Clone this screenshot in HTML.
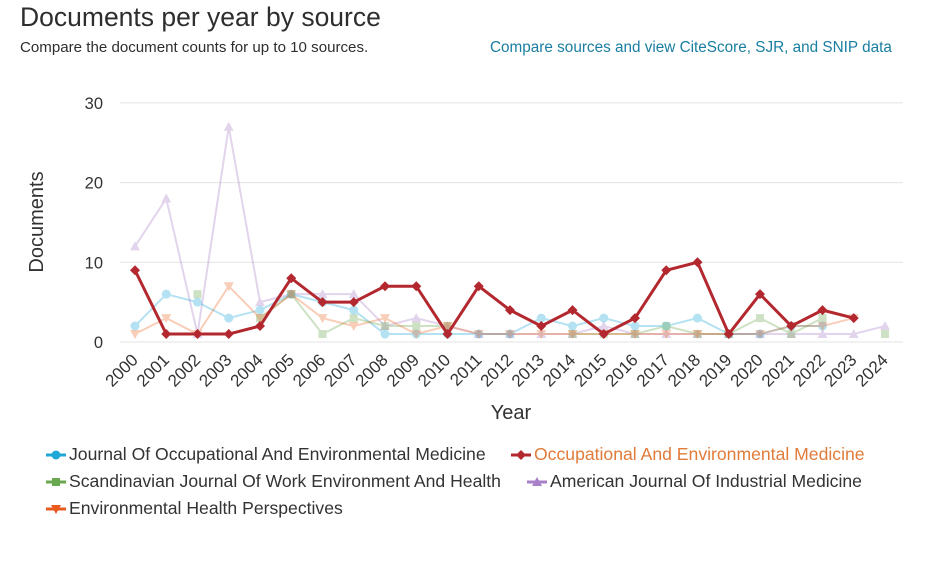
<!DOCTYPE html>
<html><head><meta charset="utf-8">
<style>
body{margin:0;width:936px;height:565px;background:#fff;font-family:"Liberation Sans",Arial,sans-serif;overflow:hidden;position:relative}
.t{position:absolute;white-space:nowrap}
.lg{position:absolute;white-space:nowrap;font-size:17.6px;color:#333}
.lg svg{position:absolute;left:-24px;top:4px}
</style></head><body>
<div class="t" style="left:20px;top:2px;font-size:26.5px;color:#2e2e2e">Documents per year by source</div>
<div class="t" style="left:20px;top:39px;font-size:15.1px;color:#2e2e2e">Compare the document counts for up to 10 sources.</div>
<div class="t" style="left:490px;top:39px;font-size:15.3px;color:#1a7ea0">Compare sources and view CiteScore, SJR, and SNIP data</div>
<svg id="chart" width="936" height="565" style="position:absolute;left:0;top:0"></svg>
<script>
const years=[2000,2001,2002,2003,2004,2005,2006,2007,2008,2009,2010,2011,2012,2013,2014,2015,2016,2017,2018,2019,2020,2021,2022,2023,2024];
const yTicks=[0,10,20,30];
const joem=[2,6,5,3,4,6,5,4,1,1,1,1,1,3,2,3,2,2,3,1,1,2,2,null,null];
const oem=[9,1,1,1,2,8,5,5,7,7,1,7,4,2,4,1,3,9,10,1,6,2,4,3,null];
const sjweh=[null,null,6,null,3,6,1,3,2,2,2,null,null,null,1,1,1,2,1,1,3,1,3,null,1];
const ajim=[12,18,1,27,5,6,6,6,2,3,2,1,1,1,1,2,1,1,1,1,1,1,1,1,2];
const ehp=[1,3,1,7,3,6,3,2,3,1,2,1,1,1,1,1,1,1,1,1,1,2,2,3,null];
const svg=document.getElementById('chart');const NS='http://www.w3.org/2000/svg';
const x=i=>135+i*31.25, y=v=>342-v*7.97;
function el(t,a,p){const e=document.createElementNS(NS,t);for(const k in a)e.setAttribute(k,a[k]);(p||svg).appendChild(e);return e;}
yTicks.forEach(v=>{
 const g=el('line',{x1:120,x2:903,y1:y(v),y2:y(v),stroke:'#e3e3e3'});
 
 
 const t=el('text',{x:103,y:y(v)+6,'text-anchor':'end','font-size':16.5,fill:'#333'});t.textContent=v;
 
 
});
years.forEach((yr,i)=>{
 const t=el('text',{transform:`translate(${x(i)+4},${361}) rotate(-45)`,'text-anchor':'end','font-size':17,fill:'#333'});t.textContent=yr;
 
 
});
const yt=el('text',{transform:'translate(43,222) rotate(-90)','text-anchor':'middle','font-size':20,fill:'#333'});yt.textContent='Documents';


const xt=el('text',{x:511,y:419,'text-anchor':'middle','font-size':20,fill:'#333'});xt.textContent='Year';


function marker(g,shape,cx,cy,c){
 if(shape==='circle')el('circle',{cx,cy,r:4.5,fill:c},g);
 else if(shape==='square')el('rect',{x:cx-4,y:cy-4,width:8,height:8,fill:c},g);
 else if(shape==='diamond')el('polygon',{points:`${cx},${cy-5} ${cx+5},${cy} ${cx},${cy+5} ${cx-5},${cy}`,fill:c},g);
 else if(shape==='tri')el('polygon',{points:`${cx},${cy-5} ${cx+5},${cy+4} ${cx-5},${cy+4}`,fill:c},g);
 else el('polygon',{points:`${cx-5},${cy-4} ${cx+5},${cy-4} ${cx},${cy+5}`,fill:c},g);
}
function series(data,c,shape,op,w,name){
 const g=el('g',{opacity:op});
 
 
 let d='',pen=false;
 data.forEach((v,i)=>{if(v==null){pen=false;return;}d+=(pen?'L':'M')+x(i)+' '+y(v)+' ';pen=true;});
 el('path',{d,fill:'none',stroke:c,'stroke-width':w},g);
 data.forEach((v,i)=>{if(v!=null)marker(g,shape,x(i),y(v),c);});
}
series(ajim,'#a880c8','tri',0.33,2,'series-american-journal');
series(joem,'#1fa8d8','circle',0.33,2,'series-joem');
series(sjweh,'#6aa84f','square',0.33,2,'series-scandinavian');
series(ehp,'#ea6c2a','inv',0.33,2,'series-ehp');
series(oem,'#b3282f','diamond',1,3,'series-oem');
</script>
<div style="position:absolute;left:0;top:0">
<div class="lg" style="left:69px;top:444px"><svg width="22" height="14"><line x1="1" y1="7" x2="21" y2="7" stroke="#1fa8d8" stroke-width="3"/><circle cx="11" cy="7" r="4.5" fill="#1fa8d8"/></svg>Journal Of Occupational And Environmental Medicine</div>
<div class="lg" style="left:534px;top:444px;color:#e07b39"><svg width="22" height="14"><line x1="1" y1="7" x2="21" y2="7" stroke="#b3282f" stroke-width="3"/><polygon points="11,2 16,7 11,12 6,7" fill="#b3282f"/></svg>Occupational And Environmental Medicine</div>
<div class="lg" style="left:69px;top:471px"><svg width="22" height="14"><line x1="1" y1="7" x2="21" y2="7" stroke="#6aa84f" stroke-width="3"/><rect x="7" y="3" width="8" height="8" fill="#6aa84f"/></svg>Scandinavian Journal Of Work Environment And Health</div>
<div class="lg" style="left:550px;top:471px"><svg width="22" height="14"><line x1="1" y1="7" x2="21" y2="7" stroke="#a880c8" stroke-width="3"/><polygon points="11,2 16,11 6,11" fill="#a880c8"/></svg>American Journal Of Industrial Medicine</div>
<div class="lg" style="left:69px;top:498px"><svg width="22" height="14"><line x1="1" y1="7" x2="21" y2="7" stroke="#ea5a1e" stroke-width="3"/><polygon points="6,3 16,3 11,12" fill="#ea5a1e"/></svg>Environmental Health Perspectives</div>
</div>
</body></html>
